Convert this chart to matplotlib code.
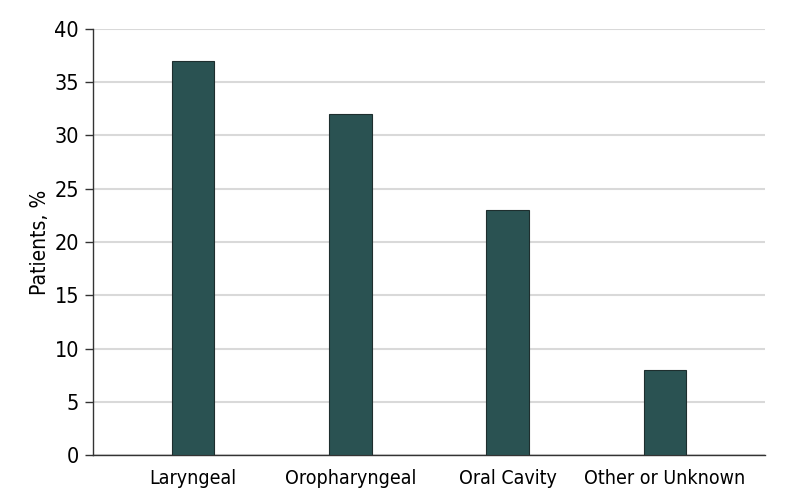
import matplotlib
matplotlib.use('Agg')
import matplotlib.pyplot as plt
import numpy as np

categories = ['Laryngeal', 'Oropharyngeal', 'Oral Cavity', 'Other or Unknown']
patients_pct = [37, 32, 23, 8]
y_ticks = [0, 5, 10, 15, 20, 25, 30, 35, 40]

plt.rcParams['font.family'] = ['DejaVu Sans']
plt.rcParams['font.stretch'] = 'condensed'

fig = plt.figure(figsize=(7.94, 5.04), dpi=100, facecolor='white')
ax = fig.add_axes([0.117, 0.0972, 0.8465, 0.8453])

x = np.arange(len(categories))
ax.bar(x, patients_pct, width=0.27, color='#2a5252', edgecolor='#1e2e2e', linewidth=0.8, zorder=3)

ax.set_xlim(-0.635, 3.635)
ax.set_ylim(0, 40)
ax.set_yticks(y_ticks)
ax.set_xticks(x)
ax.set_xticklabels(categories)
ax.yaxis.grid(True, color='#d9d9d9', linewidth=1.5, zorder=0)
ax.set_axisbelow(True)

for side in ('top', 'right'):
  ax.spines[side].set_visible(False)
for side in ('left', 'bottom'):
  ax.spines[side].set_color('#333333')
  ax.spines[side].set_linewidth(1.0)

ax.tick_params(axis='y', length=6, width=1, color='#333333', labelsize=15.5, pad=4)
ax.tick_params(axis='x', length=0, labelsize=14, pad=10)
ax.set_ylabel('Patients, %', fontsize=15, labelpad=3)

fig.savefig('out.png', dpi=100)
